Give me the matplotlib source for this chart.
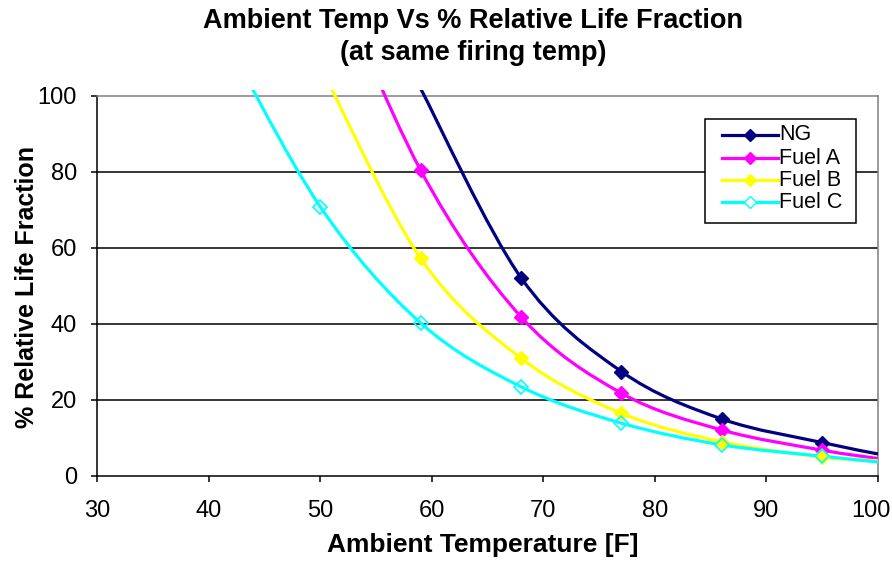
import matplotlib
matplotlib.use("Agg")
import matplotlib.pyplot as plt
from matplotlib.path import Path
from matplotlib.patches import PathPatch, Rectangle
from matplotlib.lines import Line2D
from matplotlib.transforms import Bbox, TransformedBbox, ScaledTranslation

plt.rcParams['font.family'] = ['Liberation Sans', 'DejaVu Sans']

# life fraction (%) read at each ambient temperature (F)
ng_temp = [59, 68, 77, 86, 95, 100]
ng_life = [102, 52.2, 27.5, 15.0, 8.8, 5.8]

fuel_a_temp = [50, 59, 68, 77, 86, 95, 100]
fuel_a_life = [140, 80.5, 41.9, 21.8, 12.1, 6.8, 4.6]

fuel_b_temp = [50, 59, 68, 77, 86, 95, 100]
fuel_b_life = [108, 57.3, 31.0, 16.5, 9.0, 5.0, 4.0]

fuel_c_temp = [41, 50, 59, 68, 77, 86, 95, 100]
fuel_c_life = [118, 70.9, 40.3, 23.5, 13.9, 8.2, 5.2, 3.7]

series = [
    ("NG", ng_temp, ng_life, "#000080", True),
    ("Fuel A", fuel_a_temp, fuel_a_life, "#FF00FF", True),
    ("Fuel B", fuel_b_temp, fuel_b_life, "#FFFF00", True),
    ("Fuel C", fuel_c_temp, fuel_c_life, "#00FFFF", False),
]

x_ticks = [30, 40, 50, 60, 70, 80, 90, 100]
y_ticks = [0, 20, 40, 60, 80, 100]

W, H = 892, 573


def smooth_path(xs, ys):
    # smoothed line: cubic bezier segments through each point
    pts = list(zip(xs, ys))
    n = len(pts)
    verts = [pts[0]]
    codes = [Path.MOVETO]
    for i in range(n - 1):
        p0 = pts[max(i - 1, 0)]
        p1 = pts[i]
        p2 = pts[i + 1]
        p3 = pts[min(i + 2, n - 1)]
        c1 = (p1[0] + (p2[0] - p0[0]) / 6, p1[1] + (p2[1] - p0[1]) / 6)
        c2 = (p2[0] - (p3[0] - p1[0]) / 6, p2[1] - (p3[1] - p1[1]) / 6)
        verts += [c1, c2, p2]
        codes += [Path.CURVE4] * 3
    return Path(verts, codes)


def fx(px):
    return px / W


def fy(py):
    return 1 - py / H


fig = plt.figure(figsize=(W / 100, H / 100), dpi=100)
ax = fig.add_axes([fx(97), fy(476), 781 / W, 380 / H])
ax.set_xlim(30, 100)
ax.set_ylim(0, 100)

for y in y_ticks[1:-1]:
    ax.axhline(y, color='black', lw=1.1, zorder=1)

clip = TransformedBbox(Bbox([[0, 0], [1, 1.016]]), ax.transAxes)

for name, xs, ys, color, filled in series:
    patch = PathPatch(smooth_path(xs, ys), facecolor='none', edgecolor=color,
                      lw=2.3, zorder=3, capstyle='butt')
    ax.add_patch(patch)
    patch.set_clip_box(clip)
    mx = [x for x, y in zip(xs, ys) if x < 100 and y <= 100]
    my = [y for x, y in zip(xs, ys) if x < 100 and y <= 100]
    ax.plot(mx, my, ls='none', marker='D', ms=7,
            mfc=color if filled else 'none', mec=color, mew=1.0 if filled else 1.2,
            zorder=4)

for side in ['left', 'bottom']:
    ax.spines[side].set_color('black')
    ax.spines[side].set_linewidth(1.1)
for side in ['top', 'right']:
    ax.spines[side].set_color('#808080')
    ax.spines[side].set_linewidth(1.1)

ax.set_xticks(x_ticks)
ax.set_yticks(y_ticks)
ax.tick_params(direction='out', length=4.5, width=1.1, top=False, right=False,
               labelsize=17)
ax.tick_params(axis='y', pad=10)
ax.tick_params(axis='x', pad=13)
# keep the last x label inside the figure
last = ax.get_xticklabels()[-1]
last.set_transform(last.get_transform() + ScaledTranslation(-7 / 100, 0, fig.dpi_scale_trans))

ax.text(0.494, -0.182, "Ambient Temperature [F]", transform=ax.transAxes,
        ha='center', va='center', fontsize=19, fontweight='bold')
ax.text(-0.0896, 0.497, "% Relative Life Fraction", transform=ax.transAxes,
        ha='center', va='center', rotation=90, fontsize=18, fontweight='bold')

fig.text(fx(473), fy(21), "Ambient Temp Vs % Relative Life Fraction",
         ha='center', va='center', fontsize=19.5, fontweight='bold')
fig.text(fx(473), fy(53), "(at same firing temp)",
         ha='center', va='center', fontsize=19.5, fontweight='bold')

# legend box drawn in figure pixels
fig.add_artist(Rectangle((fx(705), fy(223)), 151 / W, 104 / H, transform=fig.transFigure,
                         facecolor='white', edgecolor='black', lw=1.1, zorder=5))
row_y = [135, 158, 180, 202]
for (name, xs, ys, color, filled), ry in zip(series, row_y):
    fig.add_artist(Line2D([fx(722), fx(778)], [fy(ry), fy(ry)], transform=fig.transFigure,
                          color=color, lw=2.3, zorder=6))
    fig.add_artist(Line2D([fx(750)], [fy(ry)], transform=fig.transFigure, ls='none',
                          marker='D', ms=6.5, mfc=color if filled else 'white', mec=color,
                          zorder=7))
    fig.text(fx(779), fy(ry), name, ha='left', va='center', fontsize=15.5, zorder=7)

fig.savefig("out.png", dpi=100)
